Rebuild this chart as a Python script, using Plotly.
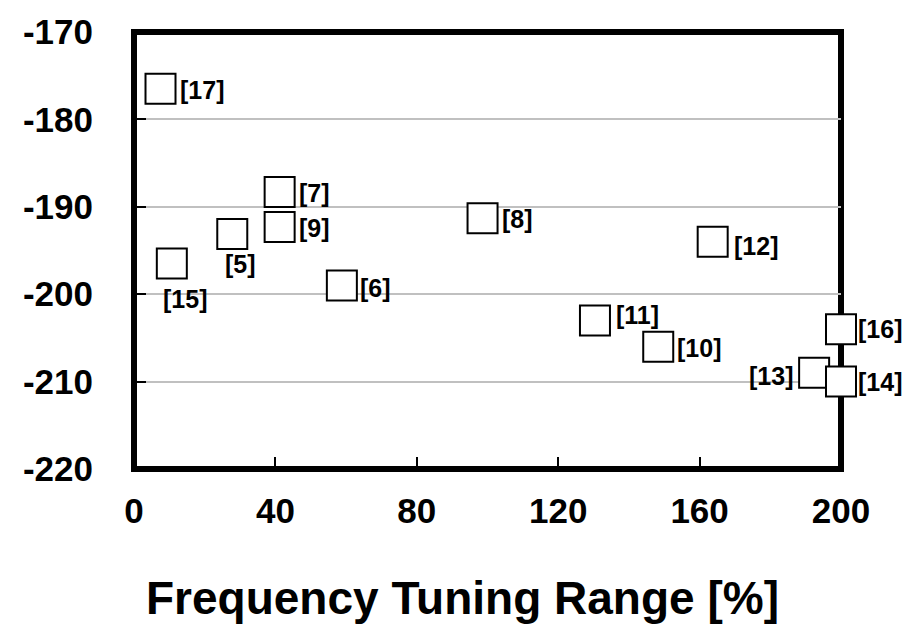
import plotly.graph_objects as go

# ---- data ----
refs = ["[5]", "[6]", "[7]", "[8]", "[9]", "[10]", "[11]", "[12]", "[13]", "[14]", "[15]", "[16]", "[17]"]
tuning_range = [27.8, 58.8, 41.2, 98.6, 41.2, 148.3, 130.4, 163.7, 192.4, 200.0, 10.7, 200.0, 7.5]
fom = [-193.1, -199.0, -188.3, -191.3, -192.3, -206.0, -203.0, -194.0, -209.0, -210.0, -196.5, -204.0, -176.5]
x_ticks = [0, 40, 80, 120, 160, 200]
y_ticks = [-220, -210, -200, -190, -180, -170]
x_title = "Frequency Tuning Range [%]"

# ---- label placement (style) ----
label_style = {
    "[5]": dict(xanchor="center", xshift=8, yshift=-30),
    "[15]": dict(xanchor="center", xshift=13, yshift=-35),
    "[13]": dict(xanchor="right", xshift=-19, yshift=-3),
    "[11]": dict(xanchor="left", xshift=19, yshift=5),
    "[6]": dict(xanchor="left", xshift=16, yshift=-3),
    "[12]": dict(xanchor="left", xshift=19, yshift=-4),
    "[16]": dict(xanchor="left", xshift=15, yshift=0),
    "[14]": dict(xanchor="left", xshift=15, yshift=0),
}
default_label = dict(xanchor="left", xshift=17, yshift=-1)

FONT = "Arial, 'Liberation Sans', sans-serif"

fig = go.Figure()
fig.add_trace(go.Scatter(
    x=tuning_range, y=fom, mode="markers",
    marker=dict(symbol="square", size=30, color="white",
                line=dict(color="black", width=2)),
    cliponaxis=False, showlegend=False, hoverinfo="x+y",
))

annotations = []
for r, xv, yv in zip(refs, tuning_range, fom):
    st = label_style.get(r, default_label)
    annotations.append(dict(
        x=xv, y=yv, xref="x", yref="y", text=f"<b>{r}</b>", showarrow=False,
        xanchor=st["xanchor"], yanchor="middle", xshift=st["xshift"], yshift=st["yshift"],
        font=dict(family=FONT, size=25, color="black"),
    ))

annotations.append(dict(
    x=0.464, xref="paper", y=-0.295, yref="paper",
    text=f"<b>{x_title}</b>", showarrow=False, xanchor="center", yanchor="middle",
    font=dict(family=FONT, size=46, color="black"),
))

# frame around plot area
shapes = [dict(type="rect", xref="paper", yref="paper", x0=0, x1=1, y0=0, y1=1,
               line=dict(color="black", width=6), layer="below")]

fig.update_layout(
    width=906, height=625,
    margin=dict(l=134, r=65, t=27, b=156),
    paper_bgcolor="white", plot_bgcolor="white",
    annotations=annotations, shapes=shapes,
    font=dict(family=FONT, color="black"),
)
fig.update_xaxes(
    range=[0, 200], tickvals=x_ticks, ticktext=[f"<b>{v}</b>" for v in x_ticks],
    showgrid=False, zeroline=False, showline=False,
    ticks="inside", ticklen=12, tickwidth=1.5, tickcolor="black",
    tickfont=dict(family=FONT, size=35, color="black"), ticklabelstandoff=18,
    ticklabeloverflow="allow",
)
fig.update_yaxes(
    range=[-220, -170], tickvals=y_ticks, ticktext=[f"<b>{v}</b>" for v in y_ticks],
    showgrid=True, gridcolor="#c0c0c0", gridwidth=2, zeroline=False, showline=False,
    ticks="inside", ticklen=12, tickwidth=1.5, tickcolor="black",
    tickfont=dict(family=FONT, size=35, color="black"), ticklabelstandoff=40,
    ticklabeloverflow="allow",
)

fig.write_html(
    "out.html",
    config={"displayModeBar": False},
    post_script="document.body.style.margin='0';document.body.style.overflow='hidden';",
)
